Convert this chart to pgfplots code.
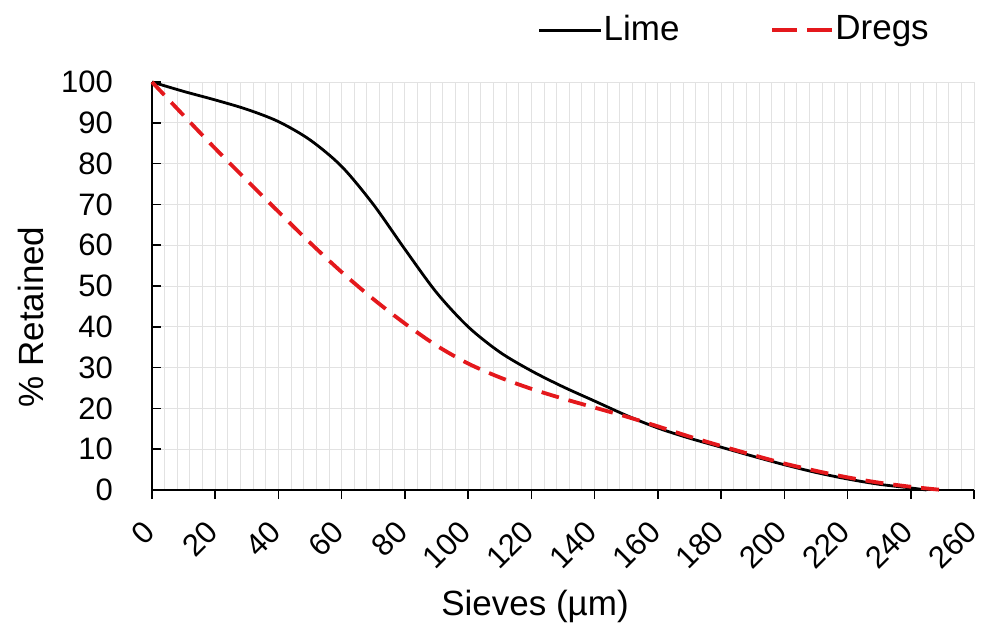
\documentclass[border=0pt]{standalone}
\usepackage{fontspec}
\setmainfont{Liberation Sans}
\usepackage{pgfplots}
\pgfplotsset{compat=1.18}
\definecolor{dregred}{RGB}{228,24,28}
\definecolor{gridgray}{RGB}{226,226,226}
\pgfplotsset{
  dregs legend/.style={legend image code/.code={%
    \draw[dregred, line width=1.9pt, dash pattern=on 12.5pt off 5pt] (0pt,0pt) -- (30pt,0pt);}},
}

\begin{document}
\fontsize{17.5}{21}\selectfont
\begin{tikzpicture}
% page frame around the axis box (axis box lower-left corner sits at the origin)
\useasboundingbox (-76pt,-69pt) rectangle (417pt,245pt);
\begin{axis}[
  at={(0pt,0pt)}, anchor=south west,
  scale only axis,
  width=411pt, height=204pt,
  xmin=0, xmax=260, ymin=0, ymax=100,
  xtick distance=20, ytick distance=10,
  minor x tick num=4,
  axis x line=bottom, axis y line=left,
  axis line style={-, black, line width=0.8pt},
  xtick align=outside, ytick align=inside,
  major tick length=4.5pt, minor tick length=0pt,
  tick style={black, line width=0.8pt},
  grid=both,
  major grid style={gridgray, line width=0.5pt},
  minor grid style={gridgray, line width=0.5pt},
  /pgf/number format/assume math mode=true,
  tick label style={font=\fontsize{15.5}{18.5}\selectfont},
  xticklabel style={xshift=2.7pt, yshift=-9.5pt, rotate=45, anchor=east},
  yticklabel style={anchor=east, xshift=-13.5pt},
  xlabel={Sieves (µm)},
  ylabel={\% Retained},
  xlabel style={at={(rel axis cs:0.466,-0.285)}, anchor=center},
  ylabel style={at={(rel axis cs:-0.147,0.424)}, anchor=center},
  legend style={at={(0.469,1.127)}, anchor=west, draw=none, fill=none,
    legend columns=2, inner sep=0pt,
    /tikz/every even column/.append style={column sep=45pt},
    nodes={inner sep=0.5pt}},
  legend image code/.code={\draw[#1] (0pt,0pt) -- (31pt,0pt);},
  clip=false,
]
% cumulative retained fraction, lime
\addplot[black, line width=1.4pt, smooth, tension=0.5] coordinates {
  (0,100) (10,97.7) (20,95.6) (30,93.3) (40,90.3) (50,85.8)
  (60,79.3) (70,70.0) (80,59.0) (90,48.4) (100,40.0) (110,33.8)
  (120,29.2) (130,25.3) (140,21.8) (150,18.3) (160,15.2) (170,12.7)
  (180,10.5) (190,8.3) (200,6.2) (210,4.3) (220,2.7) (230,1.4)
  (240,0.5) (245,0)
};
\addlegendentry{Lime}
% cumulative retained fraction, dregs
\addplot[dregred, line width=1.9pt, dash pattern=on 9pt off 5pt, smooth, tension=0.5,
  dregs legend]
  coordinates {
  (0,100) (10,91.8) (20,83.7) (30,75.9) (40,68.2) (50,60.6)
  (60,53.4) (70,46.8) (80,40.8) (90,35.4) (100,31.0) (110,27.6)
  (120,24.8) (130,22.4) (140,20.2) (150,18.0) (160,15.6) (170,13.1)
  (180,10.8) (190,8.6) (200,6.5) (210,4.7) (220,3.1) (230,1.8)
  (240,0.8) (250,0)
};
\addlegendentry{Dregs}
\end{axis}
\end{tikzpicture}
\end{document}
